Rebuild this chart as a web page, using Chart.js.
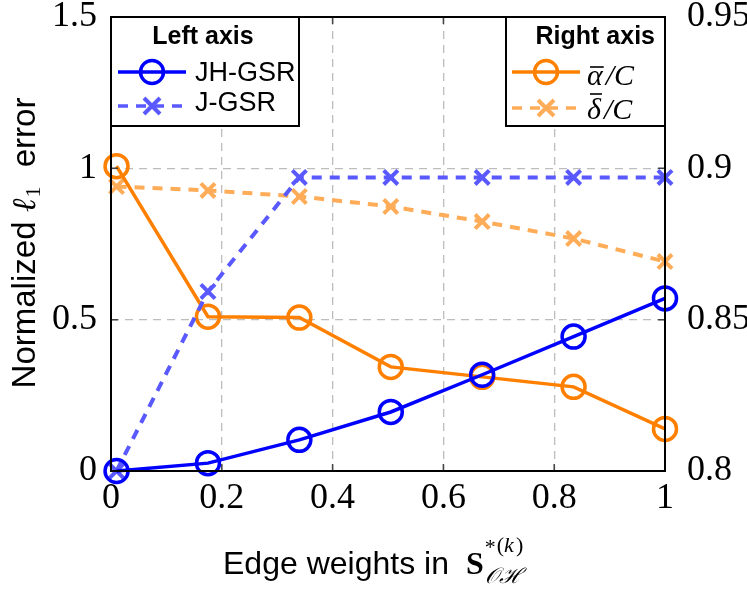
<!DOCTYPE html>
<html>
<head>
<meta charset="utf-8">
<script src="https://cdn.jsdelivr.net/npm/chart.js@4.4.1/dist/chart.umd.min.js"></script>
<style>
  html, body { margin: 0; padding: 0; background: #fff; }
  #wrap { width: 747px; height: 592px; position: relative; }
</style>
</head>
<body>
<div id="wrap"><canvas id="chart"></canvas></div>
<script>
// x: edge weights
const edgeWeights = [0.01, 0.175, 0.34, 0.505, 0.67, 0.835, 1];
// left axis series (normalized l1 error)
const jhGsr = [0, 0.026, 0.103, 0.195, 0.318, 0.444, 0.57];
const jGsr = [0, 0.593, 0.97, 0.97, 0.97, 0.97, 0.97];
// right axis series
const alphaOverC = [0.9007, 0.851, 0.8507, 0.8344, 0.8311, 0.8278, 0.8139];
const deltaOverC = [0.894, 0.8927, 0.8907, 0.8874, 0.8824, 0.8768, 0.8692];

const xTicks = [0, 0.2, 0.4, 0.6, 0.8, 1];
const xTickLabels = ["0", "0.2", "0.4", "0.6", "0.8", "1"];
const leftTicks = [0, 0.5, 1, 1.5];
const leftTickLabels = ["0", "0.5", "1", "1.5"];
const rightTicks = [0.8, 0.85, 0.9, 0.95];
const rightTickLabels = ["0.8", "0.85", "0.9", "0.95"];

const BLUE = "#0000ff";
const LBLUE = "#5959ff";
const ORANGE = "#ff8000";
const LORANGE = "#ffac59";

const SANS = '"Liberation Sans", sans-serif';
const SERIF = '"Liberation Serif", "DejaVu Serif", serif';

function pts(ys) {
  return edgeWeights.map((x, i) => ({ x: x, y: ys[i] }));
}

function fixTicks(list) {
  return function (scale) {
    scale.ticks = list.map((v) => ({ value: v }));
  };
}

// fixed axis size, no extra padding from the tick labels
function fitWidth(w) {
  return function (scale) {
    scale.width = w;
    scale.paddingTop = 0;
    scale.paddingBottom = 0;
  };
}

// legend sample: line + marker
function legendLine(ctx, x0, x1, y, color, dash, marker) {
  ctx.save();
  ctx.strokeStyle = color;
  ctx.lineWidth = 3.5;
  ctx.setLineDash(dash);
  ctx.beginPath();
  ctx.moveTo(x0, y);
  ctx.lineTo(x1, y);
  ctx.stroke();
  ctx.setLineDash([]);
  const mx = (x0 + x1) / 2;
  ctx.lineWidth = marker === "circle" ? 3.5 : 4;
  ctx.beginPath();
  if (marker === "circle") {
    ctx.arc(mx, y, 11.5, 0, Math.PI * 2);
  } else {
    ctx.moveTo(mx - 8, y - 8); ctx.lineTo(mx + 8, y + 8);
    ctx.moveTo(mx - 8, y + 8); ctx.lineTo(mx + 8, y - 8);
  }
  ctx.stroke();
  ctx.restore();
}

function barFraction(ctx, x, baseline, greek, barY) {
  // greek letter with bar, then "/C"
  ctx.font = "italic 30px " + SERIF;
  ctx.textAlign = "left";
  ctx.textBaseline = "alphabetic";
  ctx.fillText(greek, x, baseline);
  const w = ctx.measureText(greek).width;
  ctx.beginPath();
  ctx.lineWidth = 1.6;
  ctx.moveTo(x + 3, barY);
  ctx.lineTo(x + w + 1, barY);
  ctx.stroke();
  ctx.fillText("/C", x + w + 3, baseline);
}

const overlay = {
  id: "overlay",
  afterDraw(chart) {
    const ctx = chart.ctx;
    const a = chart.chartArea;
    const sx = chart.scales.x, sy = chart.scales.y, sy1 = chart.scales.y1;
    ctx.save();

    // inner tick marks
    ctx.strokeStyle = "#444";
    ctx.lineWidth = 1.5;
    ctx.beginPath();
    xTicks.forEach((v) => {
      const p = sx.getPixelForValue(v);
      ctx.moveTo(p, a.bottom); ctx.lineTo(p, a.bottom - 7);
      ctx.moveTo(p, a.top); ctx.lineTo(p, a.top + 7);
    });
    leftTicks.forEach((v) => {
      const p = sy.getPixelForValue(v);
      ctx.moveTo(a.left, p); ctx.lineTo(a.left + 7, p);
    });
    rightTicks.forEach((v) => {
      const p = sy1.getPixelForValue(v);
      ctx.moveTo(a.right, p); ctx.lineTo(a.right - 7, p);
    });
    ctx.stroke();

    // legend boxes
    ctx.fillStyle = "#fff";
    ctx.strokeStyle = "#000";
    ctx.lineWidth = 2;
    ctx.fillRect(a.left, a.top, 299 - a.left, 126 - a.top);
    ctx.strokeRect(a.left, a.top, 299 - a.left, 126 - a.top);
    ctx.fillRect(506, a.top, a.right - 506, 126 - a.top);
    ctx.strokeRect(506, a.top, a.right - 506, 126 - a.top);

    ctx.fillStyle = "#000";
    ctx.font = "bold 25px " + SANS;
    ctx.textBaseline = "alphabetic";
    ctx.textAlign = "center";
    ctx.fillText("Left axis", 203, 44);
    ctx.textAlign = "right";
    ctx.fillText("Right axis", 655, 44);

    legendLine(ctx, 118, 186, 72, BLUE, [], "circle");
    legendLine(ctx, 118, 186, 106, LBLUE, [10, 8], "cross");
    legendLine(ctx, 512, 580, 72, ORANGE, [], "circle");
    legendLine(ctx, 512, 580, 108, LORANGE, [10, 8], "cross");

    ctx.fillStyle = "#000";
    ctx.strokeStyle = "#000";
    ctx.font = "27px " + SANS;
    ctx.textAlign = "left";
    ctx.fillText("JH-GSR", 195, 81);
    ctx.fillText("J-GSR", 195, 111);
    barFraction(ctx, 587, 85, "α", 67);
    barFraction(ctx, 587, 119, "δ", 94);

    // frame
    ctx.lineWidth = 2;
    ctx.strokeRect(a.left, a.top, a.right - a.left, a.bottom - a.top);

    // x axis title
    ctx.textAlign = "left";
    ctx.textBaseline = "alphabetic";
    let x = 223;
    const base = 574;
    ctx.font = "32px " + SANS;
    ctx.fillText("Edge weights in ", x, base);
    x = 466;
    ctx.font = "bold 32px " + SERIF;
    ctx.fillText("S", x, base);
    x += ctx.measureText("S").width + 1;
    ctx.font = "22px " + SERIF;
    ctx.fillText("*", x, base - 20);
    const xs = x + ctx.measureText("*").width + 1;
    ctx.fillText("(", xs, base - 22);
    let xk = xs + ctx.measureText("(").width;
    ctx.font = "italic 22px " + SERIF;
    ctx.fillText("k", xk, base - 22);
    xk += ctx.measureText("k").width + 2;
    ctx.font = "22px " + SERIF;
    ctx.fillText(")", xk, base - 22);
    ctx.font = "italic 22px " + SERIF;
    ctx.fillText("𝒪ℋ", x, base + 9);

    // y axis title (rotated)
    ctx.save();
    ctx.translate(35, 243);
    ctx.rotate(-Math.PI / 2);
    const p1 = "Normalized ";
    const p3 = "  error";
    ctx.font = "33px " + SANS;
    const w1 = ctx.measureText(p1).width;
    const w3 = ctx.measureText(p3).width;
    ctx.font = "italic 33px " + SERIF;
    const wl = ctx.measureText("ℓ").width;
    ctx.font = "22px " + SERIF;
    const ws = ctx.measureText("1").width;
    const total = w1 + wl + ws + 2 + w3;
    let yx = -total / 2;
    ctx.font = "33px " + SANS;
    ctx.fillText(p1, yx, 0);
    yx += w1;
    ctx.font = "italic 33px " + SERIF;
    ctx.fillText("ℓ", yx, 0);
    yx += wl + 1;
    ctx.font = "22px " + SERIF;
    ctx.fillText("1", yx, 5);
    yx += ws + 1;
    ctx.font = "33px " + SANS;
    ctx.fillText(p3, yx, 0);
    ctx.restore();

    ctx.restore();
  }
};

const gridDash = [8, 6];
const tickFont = { family: SERIF, size: 36, lineHeight: 1 };

new Chart(document.getElementById("chart"), {
  type: "line",
  data: {
    datasets: [
      {
        label: "JH-GSR", data: pts(jhGsr), yAxisID: "y",
        borderColor: BLUE, borderWidth: 3.5, pointStyle: "circle",
        pointRadius: 11.5, pointBorderWidth: 3.5, pointBorderColor: BLUE,
        pointBackgroundColor: "rgba(0,0,0,0)", clip: false, tension: 0
      },
      {
        label: "J-GSR", data: pts(jGsr), yAxisID: "y",
        borderColor: LBLUE, borderWidth: 4, borderDash: [10, 8], pointStyle: "crossRot",
        pointRadius: 10, pointBorderWidth: 4, pointBorderColor: LBLUE,
        clip: false, tension: 0
      },
      {
        label: "alpha/C", data: pts(alphaOverC), yAxisID: "y1",
        borderColor: ORANGE, borderWidth: 3.5, pointStyle: "circle",
        pointRadius: 11.5, pointBorderWidth: 3.5, pointBorderColor: ORANGE,
        pointBackgroundColor: "rgba(0,0,0,0)", clip: false, tension: 0
      },
      {
        label: "delta/C", data: pts(deltaOverC), yAxisID: "y1",
        borderColor: LORANGE, borderWidth: 4, borderDash: [10, 8], pointStyle: "crossRot",
        pointRadius: 10, pointBorderWidth: 4, pointBorderColor: LORANGE,
        clip: false, tension: 0
      }
    ]
  },
  options: {
    responsive: true,
    maintainAspectRatio: false,
    animation: false,
    layout: { padding: { top: 17, left: 0, right: 0, bottom: 0 } },
    plugins: { legend: { display: false }, tooltip: { enabled: false } },
    scales: {
      x: {
        type: "linear", min: 0, max: 1,
        afterBuildTicks: fixTicks(xTicks),
        afterFit(scale) {
          scale.height = 121;
          scale.paddingLeft = 0;
          scale.paddingRight = 0;
        },
        ticks: {
          font: tickFont, color: "#000", padding: 10,
          callback: (v, i) => xTickLabels[i]
        },
        grid: { color: "#bdbdbd", lineWidth: 1.3, drawTicks: false },
        border: { display: false, dash: gridDash }
      },
      y: {
        position: "left", min: 0, max: 1.5,
        afterBuildTicks: fixTicks(leftTicks),
        afterFit: fitWidth(111),
        ticks: {
          font: tickFont, color: "#000", padding: 14,
          callback: (v, i) => leftTickLabels[i]
        },
        grid: { color: "#bdbdbd", lineWidth: 1.3, drawTicks: false },
        border: { display: false, dash: gridDash }
      },
      y1: {
        position: "right", min: 0.8, max: 0.95,
        afterBuildTicks: fixTicks(rightTicks),
        afterFit: fitWidth(82),
        ticks: {
          font: tickFont, color: "#000", padding: 14,
          callback: (v, i) => rightTickLabels[i]
        },
        grid: { display: false },
        border: { display: false }
      }
    }
  },
  plugins: [overlay]
});
</script>
</body>
</html>
